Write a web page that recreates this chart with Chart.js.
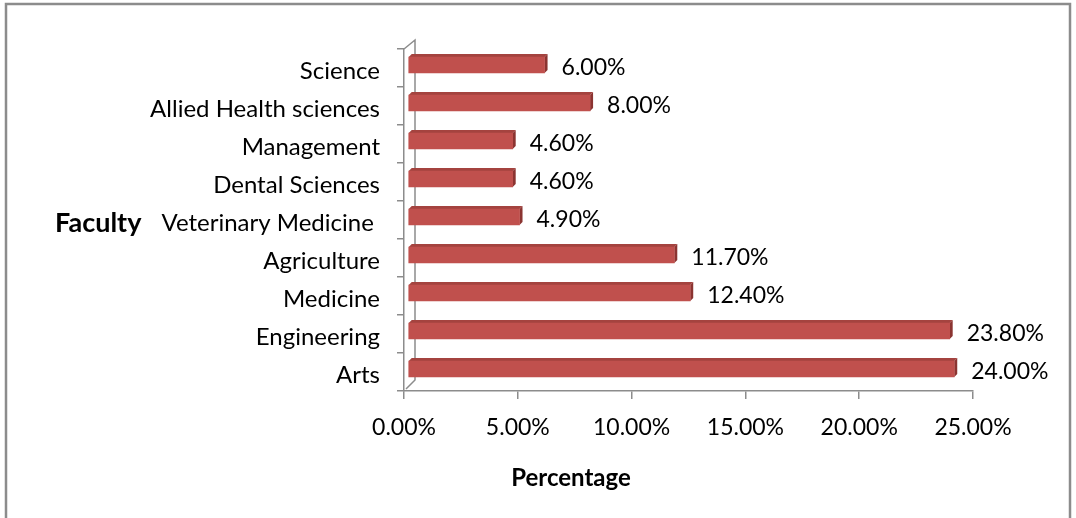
<!DOCTYPE html>
<html>
<head>
<meta charset="utf-8">
<script src="https://cdn.jsdelivr.net/npm/chart.js@4.4.4/dist/chart.umd.min.js"></script>
<style>
  html, body { margin: 0; padding: 0; background: #fff; }
  #wrap { width: 1076px; height: 518px; }
</style>
</head>
<body>
<div id="wrap"><canvas id="chart" width="1076" height="518"></canvas></div>
<script>
// faculties, top to bottom as in the chart
const faculties = ['Science', 'Allied Health sciences', 'Management', 'Dental Sciences',
  'Veterinary Medicine ', 'Agriculture', 'Medicine', 'Engineering', 'Arts'];
const percentages = [6.0, 8.0, 4.6, 4.6, 4.9, 11.7, 12.4, 23.8, 24.0];
const xTicks = [0, 5, 10, 15, 20, 25];

const FONT = 'Lato, "Open Sans", sans-serif';
const FACE = '#C0504D';
const TOP = '#A4433F';
const SIDE = '#8B3431';
const AXIS = '#8c8c8c';
const DEPTH = 3;
const SHIFT_X = 4, SHIFT_Y = -3;

// fake 3d look like the excel chart: shift bars, add top + side strips, value labels
const bar3d = {
  id: 'bar3d',
  beforeDraw(chart) {
    const c = chart.ctx;
    c.save();
    c.fillStyle = '#fff';
    c.fillRect(0, 0, chart.width, chart.height);
    c.strokeStyle = AXIS;
    c.lineWidth = 2.5;
    c.strokeRect(6, 4, 1064, 600);
    c.restore();
  },
  beforeDatasetsDraw(chart) {
    const c = chart.ctx;
    const a = chart.chartArea;
    // back wall of the 3d frame
    c.save();
    c.strokeStyle = AXIS;
    c.lineWidth = 1.5;
    c.beginPath();
    c.moveTo(a.left, a.top);
    c.lineTo(a.left + 11, a.top - 9);
    c.lineTo(a.left + 11, a.bottom - 11);
    c.lineTo(a.left + 2, a.bottom - 2);
    c.stroke();
    c.restore();

    c.save();
    c.translate(SHIFT_X, SHIFT_Y);
    chart.getDatasetMeta(0).data.forEach(b => {
      const h = b.height / 2;
      c.fillStyle = TOP;
      c.beginPath();
      c.moveTo(b.base, b.y - h);
      c.lineTo(b.base + DEPTH, b.y - h - DEPTH);
      c.lineTo(b.x + DEPTH, b.y - h - DEPTH);
      c.lineTo(b.x, b.y - h);
      c.closePath();
      c.fill();
      c.fillStyle = SIDE;
      c.beginPath();
      c.moveTo(b.x, b.y - h);
      c.lineTo(b.x + DEPTH, b.y - h - DEPTH);
      c.lineTo(b.x + DEPTH, b.y + h - DEPTH);
      c.lineTo(b.x, b.y + h);
      c.closePath();
      c.fill();
    });
  },
  afterDatasetsDraw(chart) {
    const c = chart.ctx;
    c.restore();
    c.save();
    c.fillStyle = '#000';
    c.font = '23px ' + FONT;
    c.textBaseline = 'middle';
    c.textAlign = 'left';
    chart.getDatasetMeta(0).data.forEach((b, i) => {
      c.fillText(percentages[i].toFixed(2) + '%', b.x + SHIFT_X + 17, b.y + SHIFT_Y + 3);
    });
    // axis titles
    const y = chart.scales.y;
    c.font = 'bold 27px ' + FONT;
    c.fillText('Faculty', 55, y.getPixelForValue(4) + 3);
    c.textAlign = 'center';
    c.font = 'bold 24px ' + FONT;
    c.fillText('Percentage', 571, 478);
    c.restore();
  }
};

new Chart(document.getElementById('chart'), {
  type: 'bar',
  data: {
    labels: faculties,
    datasets: [{
      data: percentages,
      backgroundColor: FACE,
      borderWidth: 0,
      barThickness: 16,
    }]
  },
  options: {
    indexAxis: 'y',
    responsive: false,
    animation: false,
    devicePixelRatio: 1,
    layout: { padding: { top: 49, right: 103, left: 0, bottom: 0 } },
    plugins: { legend: { display: false }, tooltip: { enabled: false } },
    scales: {
      x: {
        min: 0, max: 25,
        afterBuildTicks(s) { s.ticks = xTicks.map(v => ({ value: v })); },
        afterFit(s) { s.height = 127; },
        grid: { drawOnChartArea: false, tickLength: 8, color: AXIS, lineWidth: 1.5 },
        border: { color: AXIS, width: 1.5 },
        ticks: {
          color: '#000', padding: 15,
          font: { family: FONT, size: 23 },
          callback: v => v.toFixed(2) + '%'
        }
      },
      y: {
        afterFit(s) { s.width = 404; },
        grid: { drawOnChartArea: false, tickLength: 7, color: AXIS, lineWidth: 1.5 },
        border: { color: AXIS, width: 1.5 },
        ticks: { color: '#000', padding: 17, labelOffset: 3, font: { family: FONT, size: 24 } }
      }
    }
  },
  plugins: [bar3d]
});
</script>
</body>
</html>
